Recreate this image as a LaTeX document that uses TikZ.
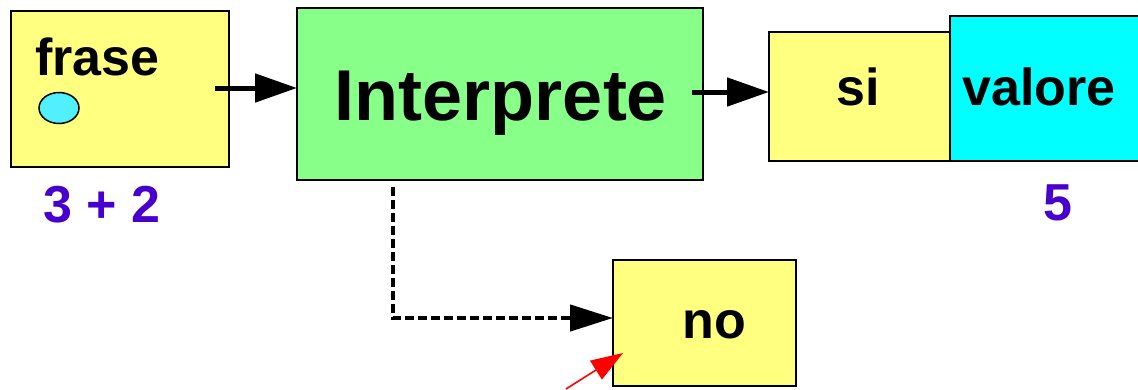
\documentclass[tikz,border=0pt]{standalone}
\usepackage{fontspec}
\setmainfont{Liberation Sans}
\usetikzlibrary{arrows.meta,positioning,shapes.geometric}
\definecolor{boxyellow}{RGB}{255,255,128}
\definecolor{boxgreen}{RGB}{136,255,136}
\definecolor{boxcyan}{RGB}{0,255,255}
\definecolor{dotcyan}{RGB}{80,240,255}
\definecolor{labpurple}{RGB}{72,0,204}
\begin{document}
\begin{tikzpicture}[x=1pt,y=-1pt,
  box/.style={draw=black, line width=2pt, inner sep=0pt, outer sep=0pt},
  txt/.style={font=\fontsize{52}{60}\selectfont\bfseries, inner sep=0pt},
  bigtxt/.style={font=\fontsize{72}{80}\selectfont\bfseries, inner sep=0pt},
  lab/.style={font=\fontsize{52}{60}\selectfont\bfseries, text=labpurple, inner sep=0pt},
  flow/.style={line width=5pt, -{Triangle[length=42pt,width=28pt]}},
  dflow/.style={line width=4.5pt, dash pattern=on 9pt off 4pt, -{Triangle[length=43pt,width=26pt]}},
  redarrow/.style={red, line width=1.6pt, -{Triangle[length=32pt,width=22pt]}}]
\useasboundingbox (0,0) rectangle (1138,389);
% boxes
\node[box, fill=boxyellow, minimum width=218pt, minimum height=156pt] (frase) at (120,89) {};
\node[box, fill=boxgreen, minimum width=406pt, minimum height=172pt] (interp) at (500,94) {};
\node[box, fill=boxyellow, minimum width=181pt, minimum height=129pt] (si) at (859.5,96.5) {};
\node[box, fill=boxcyan, minimum width=200pt, minimum height=145pt] (valore) at (1050,88.5) {};
\node[box, fill=boxyellow, minimum width=183pt, minimum height=126pt] (no) at (704.5,323) {};
% texts
\node[txt, anchor=base west] (frasetxt) at (35,75) {frase};
\node[draw=black, line width=1.5pt, fill=dotcyan, ellipse, minimum width=40pt, minimum height=31pt, inner sep=0pt] (dot) at (59,108) {};
\node[bigtxt, anchor=base] (interptxt) at (501,120) {Interprete};
\node[txt, anchor=base] (sitxt) at (858,105) {si};
\node[txt, anchor=base west] (valtxt) at (962,105) {valore};
\node[txt, anchor=base] (notxt) at (714,338) {no};
\node[lab, anchor=base] (sum) at (102,222) {3 + 2};
\node[lab, anchor=base] (five) at (1058,220) {5};
% connectors
\coordinate (a1s) at (215,88);
\draw[flow] (a1s) -- (a1s -| interp.west);
\coordinate (a2s) at (692,92);
\draw[flow] (a2s) -- (a2s -| si.west);
\coordinate (dstart) at (393,187);
\coordinate (dcorner) at (393,318);
\draw[dflow] (dstart) -- (dcorner) -- (dcorner -| no.west);
\coordinate (redtail) at (566,389);
\coordinate (redtip) at (623,353);
\draw[redarrow] (redtail) -- (redtip);
\end{tikzpicture}
\end{document}
